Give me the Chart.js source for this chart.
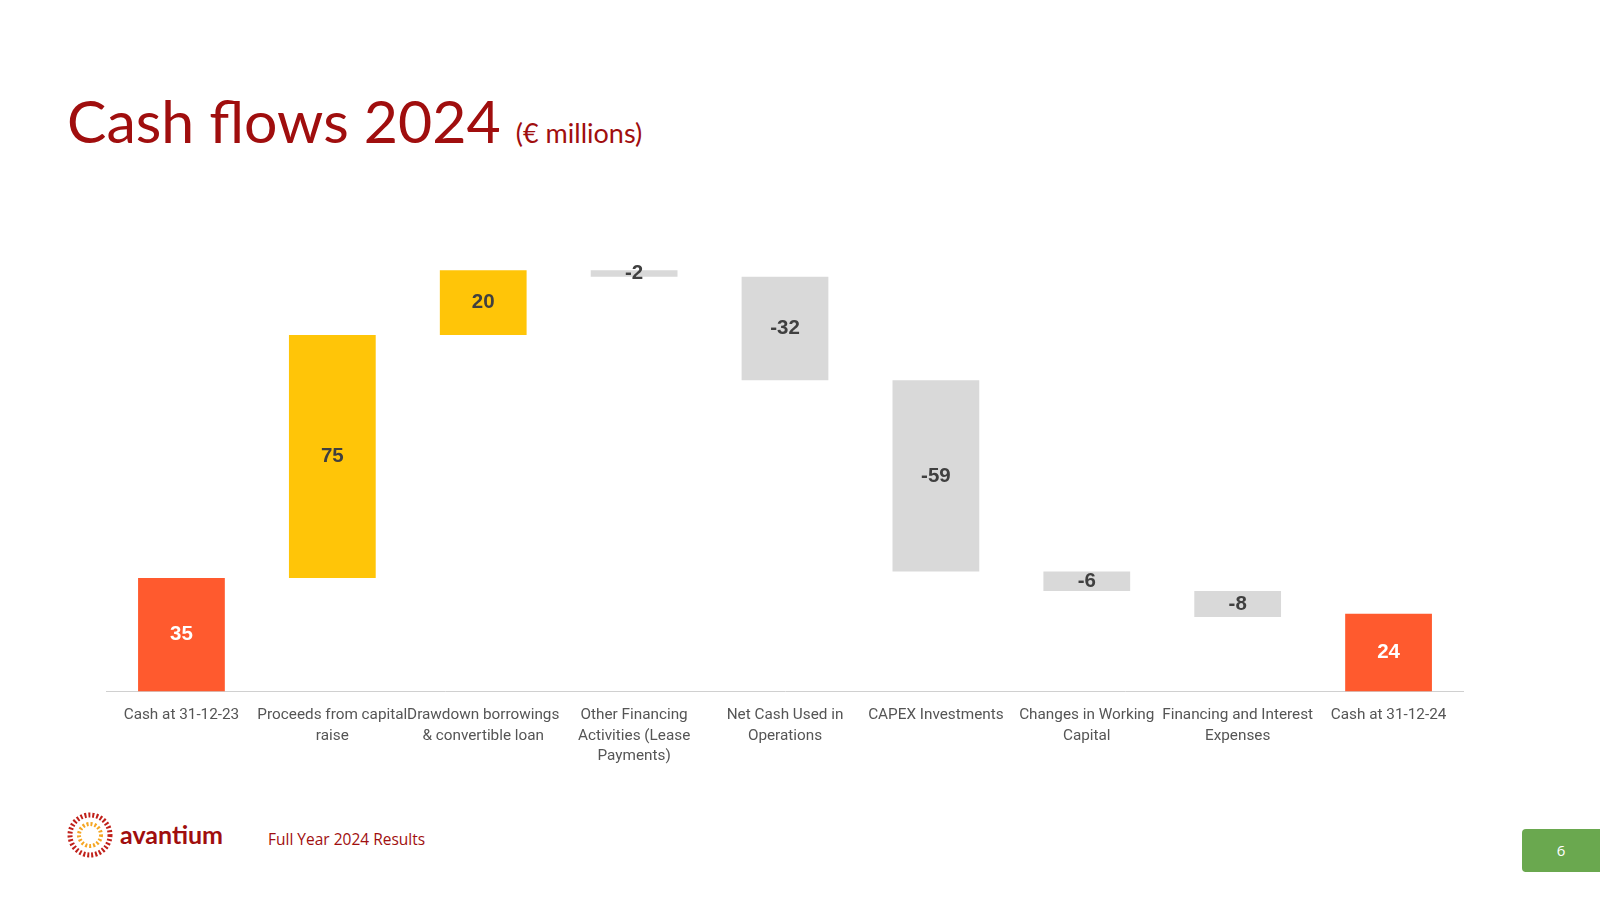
<!DOCTYPE html>
<html>
<head>
<meta charset="utf-8">
<script src="https://cdn.jsdelivr.net/npm/chart.js@4.4.1/dist/chart.umd.min.js"></script>
<style>
  body { margin: 0; width: 1600px; height: 900px; background: #fff; font-family: "Open Sans", sans-serif; position: relative; overflow: hidden; }
  #title { position: absolute; left: 67px; top: 85px; color: #A00E0E; font-size: 59px; font-family: "Lato", sans-serif; }
  #title small { font-size: 27px; }
  #wrap { position: absolute; left: 106px; top: 242px; width: 1358px; height: 530px; }
  #foot { position: absolute; left: 268px; top: 828px; color: #A00E0E; font-size: 15.5px; }
  #logo { position: absolute; left: 67px; top: 812px; }
  #logo span { position: absolute; left: 53px; top: 7px; color: #A00E0E; font-weight: bold; font-size: 25px; font-family: "Lato", sans-serif; }
  #page { position: absolute; left: 1522px; top: 829px; width: 78px; height: 43px; background: #6AA84F; color: #fff; font-size: 15px; line-height: 43px; text-align: center; border-radius: 4px 0 0 4px; }
</style>
</head>
<body>
<div id="title">Cash flows 2024 <small>(€ millions)</small></div>
<div id="wrap"><canvas id="chart"></canvas></div>
<div id="logo">
  <svg width="48" height="48"><circle cx="23" cy="23" r="20" fill="none" stroke="#C0201A" stroke-width="5" stroke-dasharray="2 2"/><circle cx="23" cy="23" r="11" fill="none" stroke="#F5A623" stroke-width="4" stroke-dasharray="2 2"/></svg>
  <span>avantium</span>
</div>
<div id="foot">Full Year 2024 Results</div>
<div id="page">6</div>
<script>
const categories = [
  "Cash at 31-12-23",
  ["Proceeds from capital", "raise"],
  ["Drawdown borrowings", "& convertible loan"],
  ["Other Financing", "Activities (Lease", "Payments)"],
  ["Net Cash Used in", "Operations"],
  "CAPEX Investments",
  ["Changes in Working", "Capital"],
  ["Financing and Interest", "Expenses"],
  "Cash at 31-12-24"
];
const changes = [35, 75, 20, -2, -32, -59, -6, -8, 24];
const isTotal = [true, false, false, false, false, false, false, false, true];
const barColors = ["#FF5A2E", "#FFC508", "#FFC508", "#D9D9D9", "#D9D9D9", "#D9D9D9", "#D9D9D9", "#D9D9D9", "#FF5A2E"];

// build floating ranges from running total
let running = 0;
const ranges = changes.map((v, i) => {
  if (isTotal[i]) { running = v; return [0, v]; }
  const start = running;
  running += v;
  return [start, running];
});

const valueLabels = {
  id: "valueLabels",
  afterDatasetsDraw(chart) {
    const ctx = chart.ctx;
    const meta = chart.getDatasetMeta(0);
    ctx.save();
    ctx.font = "bold 20.5px 'Liberation Sans', Arial, sans-serif";
    ctx.textAlign = "center";
    ctx.textBaseline = "middle";
    meta.data.forEach((bar, i) => {
      const y = (bar.y + bar.base) / 2;
      ctx.fillStyle = isTotal[i] ? "#fff" : "#404040";
      ctx.fillText(changes[i], bar.x, y);
    });
    ctx.restore();
  }
};

new Chart(document.getElementById("chart"), {
  type: "bar",
  data: {
    labels: categories,
    datasets: [{
      data: ranges,
      backgroundColor: barColors,
      borderWidth: 0,
      borderSkipped: false,
      barPercentage: 0.575,
      categoryPercentage: 1
    }]
  },
  options: {
    responsive: true,
    maintainAspectRatio: false,
    animation: false,
    layout: { padding: 0 },
    plugins: { legend: { display: false }, tooltip: { enabled: false } },
    scales: {
      y: { display: false, min: 0, max: 138.7 },
      x: {
        grid: { display: false },
        border: { color: "#D0D0D0" },
        ticks: { color: "#555", font: { size: 15.3, family: "Roboto", lineHeight: 1.32 }, maxRotation: 0, autoSkip: false, padding: 6 }
      }
    }
  },
  plugins: [valueLabels]
});
</script>
</body>
</html>
